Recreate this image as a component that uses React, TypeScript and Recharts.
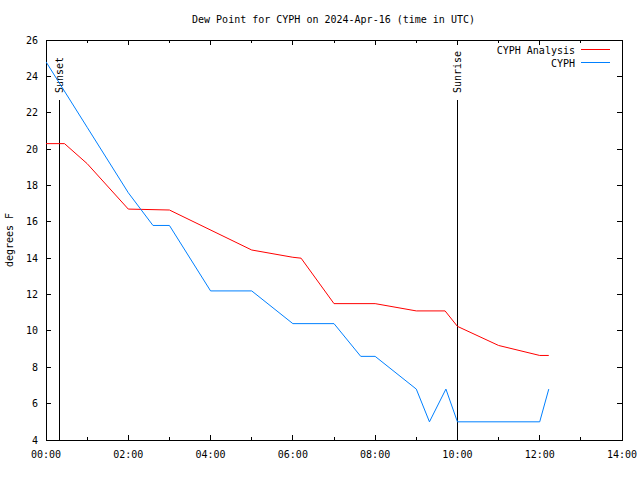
import React from 'react';
import { LineChart, Line, XAxis, YAxis, ReferenceLine, ReferenceArea } from 'recharts';

// Hours after 00:00 UTC
const analysisTimes = [0, 0.45, 1, 2, 3, 5, 6, 6.2, 7, 8, 9, 9.7, 10, 11, 12, 12.22];
const analysisValues = [20.3, 20.3, 19.2, 16.7, 16.65, 14.45, 14.05, 14.0, 11.5, 11.5, 11.1, 11.1, 10.25, 9.2, 8.65, 8.65];

const obsTimes = [0, 1, 2, 2.6, 3, 4, 5, 6, 7, 7.65, 8, 9, 9.32, 9.72, 10, 12, 12.22];
const obsValues = [24.8, 21.2, 17.6, 15.8, 15.8, 12.2, 12.2, 10.4, 10.4, 8.6, 8.6, 6.8, 5.0, 6.8, 5.0, 5.0, 6.8];

const hourTicks = [0, 1, 2, 3, 4, 5, 6, 7, 8, 9, 10, 11, 12, 13, 14];
const hourLabels = ['00:00', '', '02:00', '', '04:00', '', '06:00', '', '08:00', '', '10:00', '', '12:00', '', '14:00'];
const yTicks = [4, 6, 8, 10, 12, 14, 16, 18, 20, 22, 24, 26];

const sunsetTime = 0.32;
const sunriseTime = 10.0;
const sunLineTop = 22.7;

const title = 'Dew Point for CYPH on 2024-Apr-16 (time in UTC)';
const yLabel = 'degrees F';
const seriesNames = ['CYPH Analysis', 'CYPH'];
const seriesColors = ['#ff0000', '#0080ff'];

const analysisData = analysisTimes.map((t, i) => ({ t, v: analysisValues[i] }));
const obsData = obsTimes.map((t, i) => ({ t, v: obsValues[i] }));

const FONT = '"DejaVu Sans Mono", monospace';
const W = 640;
const H = 480;
const M = { top: 40, right: 18, bottom: 0, left: 0 };
const Y_W = 46;
const X_H = 40;
const PLOT_W = W - M.left - M.right - Y_W;
const PLOT_H = H - M.top - M.bottom - X_H;

const XTick = (p: any) => {
  const { x, y, payload } = p;
  const idx = hourTicks.indexOf(payload.value);
  const label = hourLabels[idx] || '';
  const len = label ? 5 : 3;
  return (
    <g>
      <line x1={x} x2={x} y1={y} y2={y - len} stroke="#000" shapeRendering="crispEdges" />
      <line x1={x} x2={x} y1={y - PLOT_H} y2={y - PLOT_H + len} stroke="#000" shapeRendering="crispEdges" />
      {label ? (
        <text x={x} y={y + 18} textAnchor="middle" fontFamily={FONT} fontSize={10} fill="#000">
          {label}
        </text>
      ) : null}
    </g>
  );
};

const YTick = (p: any) => {
  const { x, y, payload } = p;
  const len = 5;
  return (
    <g>
      <line x1={x} x2={x + len} y1={y} y2={y} stroke="#000" shapeRendering="crispEdges" />
      <line x1={x + PLOT_W - len} x2={x + PLOT_W} y1={y} y2={y} stroke="#000" shapeRendering="crispEdges" />
      <text x={x - 8} y={y + 3.5} textAnchor="end" fontFamily={FONT} fontSize={10} fill="#000">
        {payload.value}
      </text>
    </g>
  );
};

const SunLabel = (props: any, text: string) => {
  const vb = props.viewBox || {};
  const x = vb.x;
  const y = (vb.y ?? 0) - 7;
  return (
    <text
      x={x}
      y={y}
      dy="0.35em"
      textAnchor="start"
      transform={`rotate(-90, ${x}, ${y})`}
      fontFamily={FONT}
      fontSize={10}
      fill="#000"
    >
      {text}
    </text>
  );
};

export default function App() {
  return (
    <div style={{ position: 'absolute', left: 0, top: 0, width: W, height: H, background: '#fff', fontFamily: FONT }}>
      <div
        style={{
          position: 'absolute',
          left: 0,
          top: 13,
          width: 667,
          textAlign: 'center',
          fontSize: 10,
          lineHeight: '14px',
          color: '#000',
          whiteSpace: 'pre',
        }}
      >
        {title}
      </div>
      <div
        style={{
          position: 'absolute',
          left: 10 - 50,
          top: 240 - 7,
          width: 100,
          height: 14,
          lineHeight: '14px',
          textAlign: 'center',
          fontSize: 10,
          transform: 'rotate(-90deg)',
          color: '#000',
        }}
      >
        {yLabel}
      </div>
      <div style={{ position: 'absolute', left: 0, top: 0 }}>
        <LineChart width={W} height={H} margin={M}>
          <XAxis
            type="number"
            dataKey="t"
            domain={[0, 14]}
            allowDataOverflow
            ticks={hourTicks}
            interval={0}
            tick={(p: any) => <XTick {...p} />}
            tickLine={false}
            axisLine={false}
            tickSize={0}
            tickMargin={0}
            height={X_H}
          />
          <YAxis
            type="number"
            domain={[4, 26]}
            allowDataOverflow
            ticks={yTicks}
            interval={0}
            tick={(p: any) => <YTick {...p} />}
            tickLine={false}
            axisLine={false}
            tickSize={0}
            tickMargin={0}
            width={Y_W}
          />
          <ReferenceArea x1={0} x2={14} y1={4} y2={26} fill="none" fillOpacity={0} stroke="#000" strokeWidth={1} shapeRendering="crispEdges" ifOverflow="visible" />
          <ReferenceLine
            segment={[{ x: sunsetTime, y: 4 }, { x: sunsetTime, y: sunLineTop }]}
            stroke="#000"
            strokeWidth={1}
            shapeRendering="crispEdges"
            label={(p: any) => SunLabel(p, 'Sunset')}
          />
          <ReferenceLine
            segment={[{ x: sunriseTime, y: 4 }, { x: sunriseTime, y: sunLineTop }]}
            stroke="#000"
            strokeWidth={1}
            shapeRendering="crispEdges"
            label={(p: any) => SunLabel(p, 'Sunrise')}
          />
          <Line
            data={analysisData}
            dataKey="v"
            name={seriesNames[0]}
            type="linear"
            stroke={seriesColors[0]}
            strokeWidth={1}
            dot={false}
            activeDot={false}
            isAnimationActive={false}
          />
          <Line
            data={obsData}
            dataKey="v"
            name={seriesNames[1]}
            type="linear"
            stroke={seriesColors[1]}
            strokeWidth={1}
            dot={false}
            activeDot={false}
            isAnimationActive={false}
          />
        </LineChart>
      </div>
      {seriesNames.map((n, i) => (
        <div key={n} style={{ position: 'absolute', left: 440, top: 44 + i * 13, width: 175, height: 13, fontSize: 10, lineHeight: '13px', color: '#000' }}>
          <span style={{ position: 'absolute', right: 40, top: 0, whiteSpace: 'pre' }}>{n}</span>
          <svg width={30} height={13} style={{ position: 'absolute', left: 141, top: 0 }}>
            <line x1={0} x2={29} y1={5.5} y2={5.5} stroke={seriesColors[i]} strokeWidth={1} shapeRendering="crispEdges" />
          </svg>
        </div>
      ))}
    </div>
  );
}
